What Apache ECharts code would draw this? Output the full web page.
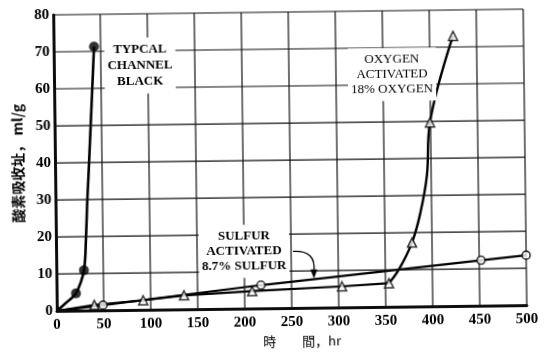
<!DOCTYPE html>
<html><head><meta charset="utf-8">
<script src="https://cdn.jsdelivr.net/npm/echarts@6/dist/echarts.min.js"></script>
<style>
html,body{margin:0;padding:0;background:#fff;overflow:hidden}
#c{width:550px;height:353px;transform:rotate(-0.7deg);transform-origin:290px 161px;}
</style>
</head><body><div id="c"></div>
<script>
// ---- data ----
const xTickValues = [0, 50, 100, 150, 200, 250, 300, 350, 400, 450, 500];
const yTickValues = [0, 10, 20, 30, 40, 50, 60, 70, 80];

// Typical channel black: marked points and traced curve
const channelBlackMarked = [[20.6, 4.7], [29.4, 10.9], [43.0, 71.3]];
const channelBlackCurve = [[0, 0], [10.6, 2.3], [20.6, 4.7], [29.4, 10.9], [32.0, 19.7], [33.8, 29.4], [36.1, 39.3], [40.6, 60.0], [43.0, 71.3]];

// Sulfur activated (8.7% S): open circles
const sulfurMarked = [[49.2, 1.4], [217.5, 6.3], [451.9, 12.3], [500, 13.5]];
const sulfurLine = [[0, 0], [49.2, 1.4], [217.5, 6.3], [451.9, 12.3], [500, 13.5]];

// Oxygen activated (18% O): open triangles
const oxygenMarked = [[40, 1.5], [92, 2.6], [135.5, 3.8], [208, 4.7], [303.7, 5.7], [353.7, 6.4], [378.7, 17.3], [399.4, 49.7], [425, 73]];
const oxygenBaseline = [[0, 0], [40, 1.5], [92, 2.6], [135.5, 3.8], [208, 4.7], [303.7, 5.7], [353.7, 6.4]];
const oxygenRise = [[353.7, 6.4], [364.5, 10.1], [378.7, 17.3], [388.3, 25.6], [395.5, 35.5], [399.4, 49.7], [425, 73]];

// annotation texts and anchors (data coords)
const labelChannel = { at: [91.7, 66], text: 'TYPCAL\nCHANNEL\nBLACK' };
const labelOxygen = { at: [359.6, 62.8], text: 'OXYGEN\nACTIVATED\n18% OXYGEN' };
const labelSulfur = { at: [199.9, 15.5], text: 'SULFUR\nACTIVATED\n8.7% SULFUR' };
const sulfurArrow = { from: [252, 15.3], ctrl: [277, 15.6], to: [274, 7.9] };

const xName = '時\u3000\u3000間，hr';
const yName = '酸素吸收址， ml/g';

// ---- chart ----
const chart = echarts.init(document.getElementById('c'), null, { renderer: 'canvas' });
const serif = '"Liberation Serif", "DejaVu Serif", serif';
const cjk = '"Noto Sans CJK JP", "Noto Sans CJK SC", sans-serif';
const frame = { show: true, lineStyle: { color: '#000', width: 2.5 } };

const option = {
  animation: false,
  backgroundColor: '#fff',
  grid: { left: 55, right: 25, top: 12, bottom: 43 },
  xAxis: [{
    type: 'value', min: 0, max: 500, interval: 50,
    axisLine: frame,
    axisTick: { show: false },
    splitLine: { show: false },
    axisLabel: { color: '#000', fontFamily: serif, fontSize: 15, fontWeight: 'bold', margin: 7,
      formatter: v => xTickValues.includes(v) ? String(v) : '' },
    name: xName, nameLocation: 'middle', nameGap: 25,
    nameTextStyle: { color: '#000', fontFamily: cjk, fontSize: 13, padding: [0, 0, 0, 20] }
  }, {
    type: 'value', min: 0, max: 500, interval: 50, position: 'top',
    axisLine: frame, axisTick: { show: false }, axisLabel: { show: false }, splitLine: { show: false }
  }],
  yAxis: [{
    type: 'value', min: 0, max: 80, interval: 10,
    axisLine: frame,
    axisTick: { show: false },
    splitLine: { show: false },
    axisLabel: { color: '#000', fontFamily: serif, fontSize: 15, fontWeight: 'bold', margin: 4,
      formatter: v => yTickValues.includes(v) ? String(v) : '' },
    name: yName, nameLocation: 'middle', nameGap: 30, nameRotate: 90,
    nameTextStyle: { color: '#000', fontFamily: cjk, fontSize: 14, fontWeight: 'bold' }
  }, {
    type: 'value', min: 0, max: 80, interval: 10, position: 'right',
    axisLine: frame, axisTick: { show: false }, axisLabel: { show: false }, splitLine: { show: false }
  }],
  series: [
    { type: 'line', data: channelBlackCurve, smooth: 0.3, showSymbol: false, symbol: 'none',
      lineStyle: { color: '#000', width: 2.6 }, z: 3, silent: true },
    { type: 'scatter', data: channelBlackMarked, symbol: 'circle', symbolSize: 10,
      itemStyle: { color: '#000' }, z: 11 },
    { type: 'line', data: sulfurLine, smooth: false, showSymbol: false, symbol: 'none',
      lineStyle: { color: '#000', width: 2.2 }, z: 3, silent: true },
    { type: 'scatter', data: sulfurMarked, symbol: 'circle', symbolSize: 8,
      itemStyle: { color: '#fff', borderColor: '#000', borderWidth: 1.6 }, z: 11 },
    { type: 'line', data: oxygenBaseline, smooth: false, showSymbol: false, symbol: 'none',
      lineStyle: { color: '#000', width: 2.2 }, z: 3, silent: true },
    { type: 'line', data: oxygenRise, smooth: 0.4, showSymbol: false, symbol: 'none',
      lineStyle: { color: '#000', width: 2.4 }, z: 3, silent: true },
    { type: 'scatter', data: oxygenMarked, symbol: 'triangle', symbolSize: 9,
      itemStyle: { color: '#fff', borderColor: '#000', borderWidth: 1.5 }, z: 11 }
  ]
};
chart.setOption(option);

const px = v => chart.convertToPixel({ gridIndex: 0 }, v);

// grid lines placed through the axes' own scales
const gridLines = [];
xTickValues.forEach(v => {
  const a = px([v, 0]), b = px([v, 80]);
  gridLines.push({ type: 'line', z: 10, silent: true,
    shape: { x1: a[0], y1: a[1], x2: b[0], y2: b[1] },
    style: { stroke: '#111', lineWidth: 1.2 } });
});
yTickValues.forEach(v => {
  const a = px([0, v]), b = px([500, v]);
  gridLines.push({ type: 'line', z: 10, silent: true,
    shape: { x1: a[0], y1: a[1], x2: b[0], y2: b[1] },
    style: { stroke: '#111', lineWidth: 1.2 } });
});

function annot(lbl, font, lineHeight) {
  const p = px(lbl.at);
  return { type: 'text', x: p[0], y: p[1], z: 12, silent: true,
    style: { text: lbl.text, align: 'center', verticalAlign: 'middle',
      font: font, lineHeight: lineHeight, fill: '#000',
      backgroundColor: '#fff', padding: [4, 3, 4, 3] } };
}
const s = px(sulfurArrow.from), c = px(sulfurArrow.ctrl), e = px(sulfurArrow.to);
chart.setOption({
  graphic: gridLines.concat([
    annot(labelChannel, 'bold 13px ' + serif, 16),
    annot(labelOxygen, '13px ' + serif, 15),
    annot(labelSulfur, 'bold 13px ' + serif, 15),
    { type: 'bezierCurve', z: 13, silent: true,
      shape: { x1: s[0], y1: s[1], cpx1: c[0], cpy1: c[1], x2: e[0], y2: e[1] - 7 },
      style: { stroke: '#000', lineWidth: 1.3, fill: null } },
    { type: 'polygon', z: 13, silent: true,
      shape: { points: [[e[0] - 3.5, e[1] - 9], [e[0] + 3.5, e[1] - 9], [e[0], e[1]]] },
      style: { fill: '#000' } }
  ])
});
</script></body></html>
